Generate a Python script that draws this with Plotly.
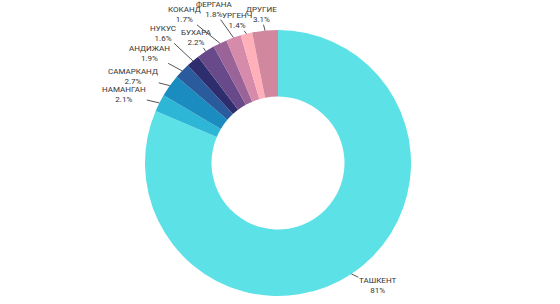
import math
import plotly.graph_objects as go

# ---- data ----
cities = ["ТАШКЕНТ", "НАМАНГАН", "САМАРКАНД", "АНДИЖАН", "НУКУС",
          "БУХАРА", "КОКАНД", "ФЕРГАНА", "УРГЕНЧ", "ДРУГИЕ"]
shares = [81, 2.1, 2.7, 1.9, 1.6, 2.2, 1.7, 1.8, 1.4, 3.1]

# ---- styles / layout ----
colors = ["#5CE1E6", "#2DB6D6", "#1A8CC0", "#2A5B9C", "#2E2E6E",
          "#684A8A", "#9A6499", "#D68BAA", "#FFB0B8", "#D1889F"]
# label text-centre offsets (px) relative to the slice's outer mid point
label_dx = [26, -35, -36.5, -32.5, -29.5, -9, -35.5, -20, -9, -4]
label_dy = [12, -8, -9.5, -17.5, -27.5, -13.5, -28.5, -28, -13, -16]

W, H = 560, 304
CX, CY, R = 278, 163, 133
HOLE = 0.5

fig = go.Figure(go.Pie(
    labels=cities,
    values=shares,
    sort=False,
    direction="clockwise",
    rotation=0,
    hole=HOLE,
    marker=dict(colors=colors, line=dict(width=0)),
    textinfo="none",
    hoverinfo="label+value",
    showlegend=False,
    domain=dict(x=[(CX - R) / W, (CX + R) / W],
                y=[1 - (CY + R) / H, 1 - (CY - R) / H]),
))

total = sum(shares)
cum = 0.0
annotations = []
for name, v, dx, dy in zip(cities, shares, label_dx, label_dy):
    mid = (cum + v / 2) / total * 2 * math.pi
    cum += v
    px = CX + R * math.sin(mid)
    py = CY - R * math.cos(mid)
    annotations.append(dict(
        x=px / W, y=1 - py / H, xref="paper", yref="paper",
        text=f"{name}<br>{v:g}%",
        showarrow=True, arrowhead=0, arrowwidth=1, arrowcolor="#555555",
        ax=dx, ay=dy, standoff=0, borderpad=0,
        font=dict(family="Roboto", size=8, color="#333333"),
        align="center",
    ))

fig.update_layout(
    width=W, height=H,
    margin=dict(l=0, r=0, t=0, b=0),
    paper_bgcolor="white",
    plot_bgcolor="white",
    annotations=annotations,
)

fig.write_html("out.html")
